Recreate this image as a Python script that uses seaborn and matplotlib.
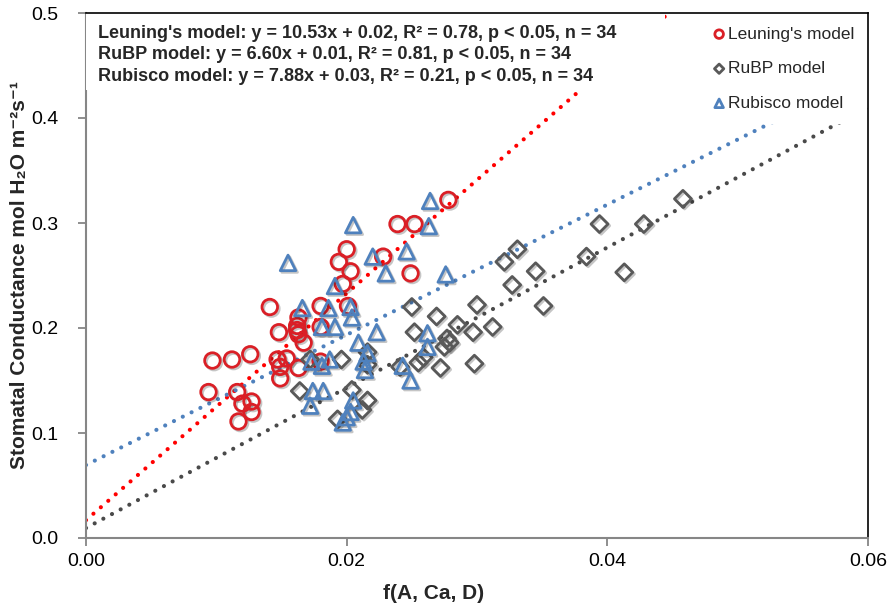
import numpy as np
import pandas as pd
import matplotlib
matplotlib.use("Agg")
import matplotlib.pyplot as plt
import matplotlib.patheffects as pe
from matplotlib.patches import Rectangle
from matplotlib.ticker import FormatStrFormatter
import seaborn as sns

# ---------------- data ----------------
series_names = ["Leuning's model", "RuBP model", "Rubisco model"]

leuning_x = [0.0094, 0.0097, 0.0112, 0.0116, 0.0126, 0.0120, 0.0127, 0.0127, 0.0117,
             0.0141, 0.0148, 0.0163, 0.0162, 0.0163, 0.0167, 0.0147, 0.0154, 0.0149,
             0.0163, 0.0149, 0.0180, 0.0180, 0.0201, 0.0200, 0.0194, 0.0203, 0.0197,
             0.0228, 0.0249, 0.0239, 0.0252, 0.0278, 0.0180, 0.0162]
leuning_y = [0.139, 0.169, 0.170, 0.139, 0.175, 0.128, 0.130, 0.120, 0.111,
             0.220, 0.196, 0.210, 0.202, 0.194, 0.186, 0.170, 0.171, 0.163,
             0.162, 0.152, 0.168, 0.221, 0.221, 0.275, 0.263, 0.254, 0.242,
             0.268, 0.252, 0.299, 0.299, 0.322, 0.201, 0.198]

rubp_x = [0.0164, 0.0172, 0.0196, 0.0204, 0.0193, 0.0216, 0.0216, 0.0216, 0.0212,
          0.0241, 0.0250, 0.0252, 0.0255, 0.0259, 0.0269, 0.0272, 0.0275, 0.0277,
          0.0279, 0.0285, 0.0297, 0.0312, 0.0298, 0.0300, 0.0321, 0.0331, 0.0327,
          0.0345, 0.0351, 0.0384, 0.0413, 0.0394, 0.0428, 0.0458]
rubp_y = [0.140, 0.170, 0.170, 0.141, 0.113, 0.177, 0.165, 0.131, 0.122,
          0.163, 0.220, 0.196, 0.167, 0.172, 0.211, 0.162, 0.182, 0.190,
          0.186, 0.203, 0.196, 0.201, 0.166, 0.222, 0.263, 0.275, 0.241,
          0.254, 0.221, 0.268, 0.253, 0.299, 0.299, 0.323]

rubisco_x = [0.0155, 0.0205, 0.0220, 0.0191, 0.0166, 0.0186, 0.0203, 0.0204, 0.0191,
             0.0209, 0.0223, 0.0216, 0.0213, 0.0214, 0.0173, 0.0181, 0.0187, 0.0174,
             0.0182, 0.0172, 0.0205, 0.0203, 0.0200, 0.0197, 0.0264, 0.0263, 0.0246,
             0.0230, 0.0276, 0.0262, 0.0262, 0.0243, 0.0249, 0.0181]
rubisco_y = [0.262, 0.298, 0.268, 0.240, 0.219, 0.219, 0.220, 0.210, 0.201,
             0.186, 0.196, 0.176, 0.168, 0.160, 0.168, 0.164, 0.170, 0.140,
             0.140, 0.126, 0.131, 0.120, 0.115, 0.110, 0.321, 0.297, 0.273,
             0.252, 0.251, 0.195, 0.182, 0.164, 0.150, 0.201]

# trend lines as drawn in the picture (intercept, slope)
fit_intercepts = [0.017, 0.0095, 0.0695]
fit_slopes = [10.8, 6.68, 6.2]
line_x_range = [0.0, 0.06]

annotation_lines = [
    "Leuning's model: y = 10.53x + 0.02, R\u00b2 = 0.78, p < 0.05, n = 34",
    "RuBP model: y = 6.60x + 0.01, R\u00b2 = 0.81, p < 0.05, n = 34",
    "Rubisco model: y = 7.88x + 0.03, R\u00b2 = 0.21, p < 0.05, n = 34",
]
x_ticks = [0.00, 0.02, 0.04, 0.06]
y_ticks = [0.0, 0.1, 0.2, 0.3, 0.4, 0.5]
x_label = "f(A, Ca, D)"
y_label = "Stomatal Conductance mol H\u2082O m\u207b\u00b2s\u207b\u00b9"

# ---------------- style ----------------
colors = ["#DA1F26", "#595959", "#4F81BD"]
line_colors = ["#FF0000", "#4A4A4A", "#4F81BD"]
markers = ["o", "D", "^"]
sizes = [125, 75, 125]

sns.set_theme(style="white")
plt.rcParams['font.family'] = ['Liberation Sans', 'DejaVu Sans']

fig = plt.figure(figsize=(8.9, 6.09), dpi=100)
ax = fig.add_axes([86 / 890, 1 - 538 / 609, 782 / 890, 525 / 609])

# trend lines
for name, b0, b1, lc in zip(series_names, fit_intercepts, fit_slopes, line_colors):
    lx = np.array(line_x_range)
    ly = b0 + b1 * lx
    sns.lineplot(x=lx, y=ly, ax=ax, color=lc, linewidth=3.0,
                 linestyle=(0, (0.01, 2.35)), dash_capstyle='round',
                 legend=False, zorder=2)

# scatter series
xs = [leuning_x, rubp_x, rubisco_x]
ys = [leuning_y, rubp_y, rubisco_y]
handles = []
for name, x, y, c, m, s in zip(series_names, xs, ys, colors, markers, sizes):
    df = pd.DataFrame({"x": x, "y": y})
    sns.scatterplot(data=df, x="x", y="y", ax=ax, marker=m, s=s,
                    facecolor="none", edgecolor=c, linewidth=2.0,
                    zorder=4, legend=False)
    coll = ax.collections[-1]
    coll.set_path_effects([pe.SimpleLineShadow(offset=(1.2, -1.2), shadow_color="k", alpha=0.25),
                           pe.Normal()])
    coll.set_label(name)
    handles.append(coll)

# white box behind the equations
ax.add_patch(Rectangle((0.0, 0.853), 0.74, 0.147, transform=ax.transAxes,
                       facecolor="white", edgecolor="none", zorder=5))
ax.text(0.0153, 0.978, "\n".join(annotation_lines), transform=ax.transAxes,
        ha="left", va="top", fontsize=13, fontweight="bold", linespacing=1.38,
        zorder=6)

leg = ax.legend(handles=handles, labels=series_names, loc="upper right",
                bbox_to_anchor=(0.999, 0.999), fontsize=12.5, markerscale=0.55,
                handlelength=0.5, handletextpad=0.25, labelspacing=1.12,
                borderpad=0.75, frameon=True, fancybox=False, framealpha=1.0,
                facecolor="white", edgecolor="none", borderaxespad=0)
leg.set_zorder(7)
for h in leg.legend_handles:
    h.set_path_effects([])

ax.set_xlim(0, 0.06)
ax.set_ylim(0, 0.5)
ax.set_xticks(x_ticks)
ax.set_yticks(y_ticks)
ax.xaxis.set_major_formatter(FormatStrFormatter('%.2f'))
ax.yaxis.set_major_formatter(FormatStrFormatter('%.1f'))

ax.set_xlabel(x_label, fontsize=15, fontweight="bold")
ax.set_ylabel(y_label, fontsize=15, fontweight="bold")
ax.xaxis.set_label_coords((434 - 86) / 782, -0.088)
ax.yaxis.set_label_coords(-0.073, 0.5)

for side in ["left", "bottom"]:
    ax.spines[side].set_color("#868686")
    ax.spines[side].set_linewidth(1.5)
for side in ["top", "right"]:
    ax.spines[side].set_color("black")
    ax.spines[side].set_linewidth(1.2)
ax.spines["top"].set_zorder(8)

ax.tick_params(axis="both", direction="out", length=6, width=1.3,
               color="#868686", labelsize=14, labelcolor="black")
ax.tick_params(axis="y", pad=14)
ax.tick_params(axis="x", pad=5)
ax.tick_params(axis="x", bottom=True)
ax.tick_params(axis="y", left=True)

fig.savefig("out.png", dpi=100, facecolor="white")
